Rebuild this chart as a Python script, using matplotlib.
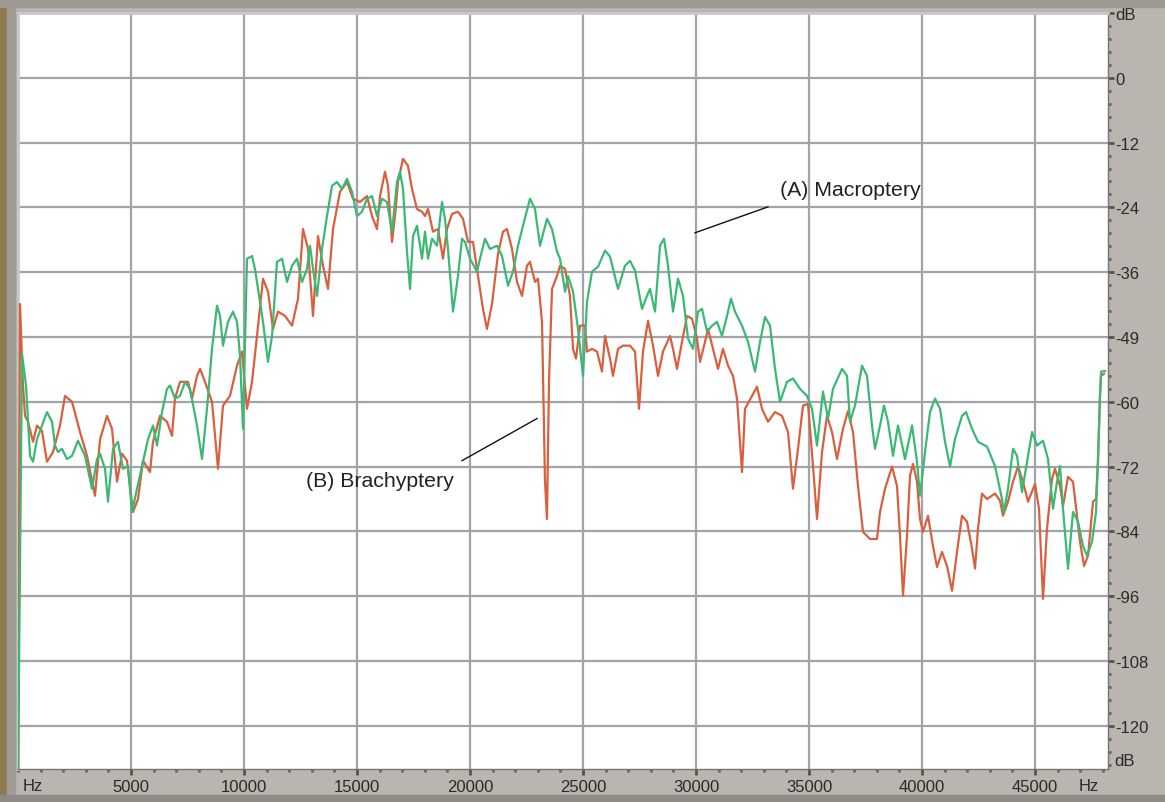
import numpy as np
import matplotlib.pyplot as plt
from matplotlib.patches import Rectangle
from matplotlib.ticker import MultipleLocator

plt.rcParams['font.family'] = ['Liberation Sans', 'DejaVu Sans']

# spectrum of the brachypterous call, (Hz, dB)
brachy = [
    (0, -130), (88, -41.9), (221, -57.0), (310, -62.6), (443, -63.7), (664, -67.4),
    (841, -64.4), (1062, -65.4), (1283, -71.1), (1549, -69.3), (1859, -64.4),
    (2080, -58.9), (2390, -60.0), (2744, -65.6), (3053, -70.0), (3407, -77.4),
    (3629, -67.0), (3938, -62.6), (4160, -65.0), (4381, -74.8), (4602, -69.6),
    (4823, -70.9), (5089, -80.4), (5310, -78.0), (5531, -70.9), (5841, -73.0),
    (5974, -67.4), (6284, -62.6), (6593, -63.7), (6815, -66.3), (6947, -59.4),
    (7169, -56.3), (7523, -56.3), (7700, -59.4), (7921, -55.2), (8054, -53.9),
    (8275, -56.3), (8585, -60.0), (8850, -72.4), (9071, -60.7), (9381, -58.9),
    (9691, -53.3), (9912, -50.7), (10133, -61.3), (10355, -56.3), (10576, -47.8),
    (10841, -37.2), (11063, -39.6), (11284, -46.5), (11505, -43.3), (11815, -44.1),
    (12125, -45.9), (12390, -40.9), (12611, -28.0), (12833, -31.7), (13054, -44.1),
    (13275, -29.3), (13496, -34.8), (13718, -39.1), (13939, -28.0), (14249, -21.1),
    (14558, -19.3), (14824, -22.4), (15134, -23.0), (15443, -21.9), (15665, -25.6),
    (15886, -28.0), (16019, -21.9), (16240, -17.4), (16373, -20.0), (16550, -30.4),
    (16682, -25.6), (16815, -19.3), (17036, -15.0), (17258, -16.3), (17435, -20.6),
    (17656, -24.3), (17877, -24.8), (18010, -25.6), (18143, -24.3), (18364, -28.5),
    (18585, -28.0), (18806, -33.5), (18983, -28.0), (19205, -25.2), (19470, -24.8),
    (19691, -26.1), (19913, -30.4), (20134, -30.4), (20355, -36.7), (20576, -42.8),
    (20753, -46.5), (20975, -41.9), (21240, -32.6), (21461, -28.5), (21638, -28.0),
    (21860, -31.7), (22081, -37.8), (22302, -40.4), (22523, -34.8), (22656, -34.1),
    (22877, -37.8), (23010, -37.2), (23187, -45.2), (23320, -74.8), (23408, -81.7),
    (23496, -56.3), (23629, -39.1), (23850, -36.7), (23984, -34.8), (24205, -35.4),
    (24426, -40.4), (24559, -50.2), (24692, -52.0), (24869, -45.9), (25090, -45.9),
    (25178, -50.7), (25400, -50.2), (25621, -50.7), (25842, -54.4), (25975, -47.8),
    (26196, -52.0), (26329, -55.2), (26550, -50.2), (26771, -49.6), (27081, -49.6),
    (27302, -50.7), (27479, -61.3), (27656, -50.7), (27878, -45.0), (28099, -49.6),
    (28320, -55.2), (28541, -50.7), (28851, -47.8), (28984, -50.2), (29161, -53.9),
    (29382, -48.9), (29603, -44.1), (29825, -44.6), (30046, -48.3), (30179, -52.6),
    (30400, -48.9), (30533, -46.5), (30754, -50.2), (30975, -53.9), (31196, -50.2),
    (31418, -53.3), (31639, -55.2), (31816, -59.4), (32037, -73.0), (32170, -61.3),
    (32480, -58.9), (32701, -57.2), (32922, -61.3), (33188, -63.7), (33497, -61.9),
    (33807, -62.6), (34073, -65.6), (34294, -76.1), (34515, -68.7), (34736, -60.7),
    (34958, -60.4), (35179, -71.9), (35356, -81.7), (35577, -69.3), (35798, -62.6),
    (36020, -65.6), (36241, -70.6), (36506, -65.0), (36728, -61.7), (36949, -65.6),
    (37170, -75.6), (37391, -84.1), (37701, -85.4), (38011, -85.4), (38144, -80.4),
    (38365, -76.1), (38675, -72.0), (38896, -75.6), (39028, -84.8), (39161, -95.9),
    (39338, -84.8), (39471, -73.7), (39604, -71.5), (39781, -74.8), (39914, -81.7),
    (40046, -84.1), (40268, -81.1), (40489, -86.7), (40666, -90.6), (40887, -87.8),
    (41108, -90.4), (41330, -95.0), (41551, -87.8), (41772, -81.1), (41993, -82.2),
    (42215, -87.2), (42347, -90.9), (42480, -83.5), (42657, -77.0), (42878, -78.0),
    (43232, -77.0), (43454, -78.3), (43586, -81.1), (43808, -78.5), (44029, -74.8),
    (44250, -72.0), (44471, -74.8), (44693, -78.5), (45002, -75.2), (45179, -79.8),
    (45356, -96.5), (45533, -83.5), (45755, -74.3), (45887, -72.4), (46109, -75.6),
    (46241, -79.3), (46463, -73.9), (46684, -74.8), (46994, -85.9), (47171, -90.4),
    (47348, -88.5), (47569, -78.5), (47702, -78.0), (47790, -70.9), (47879, -58.5),
    (47923, -55.2), (48056, -54.8),
]

# spectrum of the macropterous call, (Hz, dB)
macro = [
    (0, -130), (177, -51.1), (354, -57.0), (531, -70.0), (664, -71.1), (841, -66.9),
    (1062, -64.4), (1283, -61.9), (1505, -63.7), (1637, -68.1), (1770, -69.3),
    (1947, -68.7), (2168, -70.6), (2390, -70.0), (2655, -67.2), (2965, -70.0),
    (3274, -76.1), (3496, -70.6), (3629, -69.6), (3850, -72.4), (3983, -78.5),
    (4204, -68.7), (4425, -67.4), (4646, -72.4), (4868, -71.9), (5045, -80.4),
    (5266, -76.1), (5531, -71.1), (5753, -66.9), (5974, -64.4), (6151, -68.1),
    (6372, -61.9), (6593, -57.6), (6726, -57.0), (6947, -59.4), (7169, -58.9),
    (7390, -56.3), (7611, -57.6), (7921, -64.4), (8142, -70.6), (8363, -61.3),
    (8585, -50.2), (8806, -42.2), (8939, -44.1), (9071, -49.6), (9293, -45.2),
    (9514, -43.3), (9691, -45.2), (9824, -51.5), (9956, -65.0), (10133, -33.5),
    (10355, -33.0), (10487, -35.4), (10620, -39.1), (10841, -45.2), (11063, -52.6),
    (11240, -47.8), (11461, -34.1), (11682, -33.5), (11903, -37.8), (12125, -34.8),
    (12346, -33.5), (12567, -37.8), (12788, -35.4), (12921, -31.1), (13054, -35.4),
    (13231, -40.4), (13452, -31.7), (13673, -25.6), (13894, -20.0), (14116, -19.3),
    (14337, -20.6), (14558, -18.7), (14780, -21.1), (15001, -25.6), (15222, -24.8),
    (15443, -22.4), (15665, -21.9), (15886, -25.6), (16107, -22.4), (16328, -23.0),
    (16550, -28.5), (16771, -19.3), (16904, -17.4), (17036, -20.6), (17213, -32.2),
    (17346, -39.1), (17479, -29.3), (17656, -27.4), (17877, -33.5), (18010, -28.5),
    (18143, -33.5), (18320, -29.8), (18541, -31.1), (18762, -23.0), (18894, -26.1),
    (19027, -31.7), (19249, -43.3), (19470, -36.7), (19647, -29.8), (19780, -30.4),
    (20001, -33.5), (20311, -35.9), (20443, -33.5), (20665, -29.8), (20886, -31.7),
    (21196, -31.1), (21417, -33.0), (21683, -38.5), (21904, -35.9), (22125, -31.1),
    (22346, -27.4), (22656, -22.4), (22877, -24.3), (23098, -31.1), (23408, -26.1),
    (23629, -28.0), (23850, -32.2), (23984, -33.5), (24205, -39.6), (24338, -36.7),
    (24559, -39.6), (24780, -46.5), (25001, -55.2), (25178, -41.5), (25400, -35.9),
    (25665, -35.0), (25975, -32.0), (26196, -33.1), (26550, -39.1), (26860, -34.8),
    (27081, -33.9), (27302, -35.7), (27612, -42.8), (27833, -40.4), (27966, -39.1),
    (28187, -43.3), (28409, -31.1), (28586, -29.8), (28763, -34.8), (28984, -43.3),
    (29205, -37.2), (29426, -40.4), (29648, -48.3), (29869, -50.2), (30090, -43.3),
    (30267, -42.8), (30488, -47.0), (30710, -45.9), (30931, -45.2), (31152, -47.8),
    (31373, -44.1), (31550, -40.9), (31727, -43.3), (32037, -45.9), (32303, -48.9),
    (32612, -54.4), (32834, -48.9), (33055, -44.3), (33276, -45.9), (33497, -53.9),
    (33719, -60.0), (34028, -56.3), (34294, -55.7), (34604, -57.6), (34913, -58.9),
    (35135, -61.3), (35356, -68.1), (35621, -58.1), (35843, -63.1), (36064, -57.6),
    (36462, -53.9), (36683, -55.2), (36816, -63.7), (37037, -60.7), (37347, -53.3),
    (37568, -55.2), (37790, -64.4), (37922, -68.7), (38144, -64.4), (38321, -60.7),
    (38498, -63.7), (38719, -70.0), (38940, -64.4), (39250, -70.6), (39560, -64.4),
    (39781, -71.1), (39914, -77.4), (40135, -69.3), (40356, -61.9), (40577, -59.4),
    (40799, -61.3), (41020, -67.4), (41241, -72.0), (41462, -66.9), (41772, -62.6),
    (41949, -61.9), (42215, -65.0), (42480, -67.4), (42878, -68.3), (43232, -71.9),
    (43542, -78.0), (43631, -80.4), (43808, -76.1), (44029, -68.7), (44206, -70.0),
    (44427, -76.7), (44648, -71.1), (44870, -65.6), (45091, -68.1), (45356, -67.2),
    (45578, -70.6), (45799, -79.8), (45976, -74.8), (46109, -71.9), (46241, -79.8),
    (46463, -90.9), (46684, -80.4), (46905, -82.2), (47126, -86.7), (47303, -88.5),
    (47525, -85.9), (47702, -80.4), (47790, -70.6), (47879, -58.9), (47923, -54.4),
    (48100, -54.3),
]

db_ticks = [12, 0, -12, -24, -36, -48, -60, -72, -84, -96, -108, -120]
db_labels = ['dB', '0', '-12', '-24', '-36', '-49', '-60', '-72', '-84', '-96', '-108', '-120']
hz_ticks = [5000, 10000, 15000, 20000, 25000, 30000, 35000, 40000, 45000]

W, H = 1165, 803
fig = plt.figure(figsize=(W / 100, H / 100), dpi=100)
fig.patch.set_facecolor('#bab5ae')

# window frame bits
fig.patches.append(Rectangle((0, 0), 7 / W, 1, transform=fig.transFigure,
                             color='#8c7a4e', zorder=0))
fig.patches.append(Rectangle((7 / W, 0), 8 / W, 1, transform=fig.transFigure,
                             color='#a09b95', zorder=0))
fig.patches.append(Rectangle((0, 0), 1, 7 / H, transform=fig.transFigure,
                             color='#8f8a84', zorder=0))
fig.patches.append(Rectangle((0, 1 - 8 / H), 1, 8 / H, transform=fig.transFigure,
                             color='#9e9992', zorder=0))

ax = fig.add_axes([18 / W, 33 / H, 1090 / W, 756 / H])
ax.set_facecolor('white')
ax.set_xlim(0, 48232)
ax.set_ylim(-128, 12)

for f in hz_ticks:
    ax.axvline(f, color='#a3a3aa', lw=1.6, zorder=1)
for d in db_ticks:
    ax.axhline(d, color='#a3a3aa', lw=1.6, zorder=1)

bx, by = zip(*brachy)
mx, my = zip(*macro)
ax.plot(bx, by, color='#d8603e', lw=1.6, zorder=3)
ax.plot(mx, my, color='#3cb875', lw=1.6, zorder=3)

# labels for the two spectra
ax.text(33719, -20.6, '(A) Macroptery', fontsize=15.3, va='center', ha='left', color='#222222')
ax.plot([33188, 29957], [-23.9, -28.7], color='#111111', lw=1.0, zorder=4)
ax.text(12744, -74.6, '(B) Brachyptery', fontsize=15.3, va='center', ha='left', color='#222222')
ax.plot([19647, 22966], [-70.9, -63.1], color='#111111', lw=1.0, zorder=4)

for s in ['top', 'left']:
    ax.spines[s].set_color('#c8c8cc')
    ax.spines[s].set_linewidth(2)
ax.spines['right'].set_color('#77736e')
ax.spines['right'].set_linewidth(1)
ax.spines['bottom'].set_color('#77736e')
ax.spines['bottom'].set_linewidth(1)

ax.yaxis.tick_right()
ax.set_yticks(db_ticks)
ax.set_yticklabels(db_labels)
ax.yaxis.set_minor_locator(MultipleLocator(2.4))
ax.tick_params(axis='y', which='major', length=4, width=2, color='#55524e',
               labelsize=12, labelcolor='#2a2a2a', pad=1)
ax.tick_params(axis='y', which='minor', length=2, width=2, color='#66625d')

ax.set_xticks(hz_ticks)
ax.set_xticklabels([str(f) for f in hz_ticks])
ax.xaxis.set_minor_locator(MultipleLocator(1000))
ax.tick_params(axis='x', which='major', length=4, width=2, color='#55524e',
               labelsize=12, labelcolor='#2a2a2a', pad=3)
ax.tick_params(axis='x', which='minor', length=2, width=2, color='#66625d')

ax.text(0.004, -0.022, 'Hz', transform=ax.transAxes, fontsize=12, color='#2a2a2a',
        ha='left', va='center')
ax.text(0.982, -0.022, 'Hz', transform=ax.transAxes, fontsize=12, color='#2a2a2a',
        ha='center', va='center')
ax.text(1.006, 0.011, 'dB', transform=ax.transAxes, fontsize=12, color='#2a2a2a',
        ha='left', va='center')

fig.savefig('out.png', dpi=100, facecolor=fig.get_facecolor())
